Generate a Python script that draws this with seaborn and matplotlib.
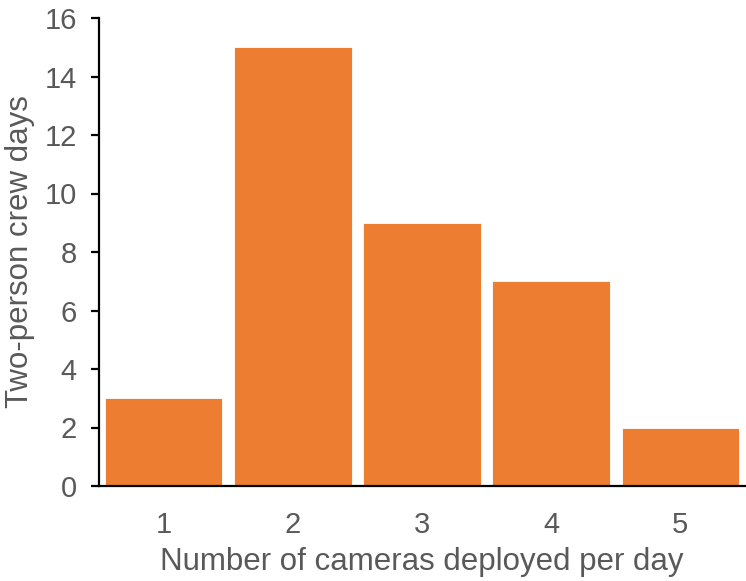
import matplotlib
matplotlib.use("Agg")
import matplotlib.pyplot as plt
import seaborn as sns
import pandas as pd

cameras_per_day = ["1", "2", "3", "4", "5"]
crew_days = [3, 15, 9, 7, 2]
y_ticks = [0, 2, 4, 6, 8, 10, 12, 14, 16]

sns.set_style("white")
plt.rcParams["font.family"] = ["Liberation Sans", "DejaVu Sans"]

text_gray = "#595959"
bar_orange = "#ED7D31"

df = pd.DataFrame({"cameras": cameras_per_day, "days": crew_days})

fig = plt.figure(figsize=(7.46, 5.81), dpi=100)
ax = fig.add_axes([99 / 746, 95 / 581, 646 / 746, 468 / 581])

sns.barplot(data=df, x="cameras", y="days", color=bar_orange, saturation=1,
            width=0.91, edgecolor="white", linewidth=0.6, ax=ax)

ax.set_xlim(-0.5, 4.5)
ax.set_ylim(0, 16)
ax.set_yticks(y_ticks)

for side in ["top", "right"]:
    ax.spines[side].set_visible(False)
for side in ["left", "bottom"]:
    ax.spines[side].set_color("black")
    ax.spines[side].set_linewidth(1.6)

ax.tick_params(axis="y", direction="out", length=6, width=1.6, color="black",
               labelsize=21, labelcolor=text_gray, pad=10, left=True)
ax.tick_params(axis="x", length=0, labelsize=21, labelcolor=text_gray, pad=18)

ax.set_xlabel("Number of cameras deployed per day", fontsize=22.5, color=text_gray,
              labelpad=6)
ax.set_ylabel("Two-person crew days", fontsize=22.5, color=text_gray, labelpad=7)

fig.savefig("out.png", dpi=100)
